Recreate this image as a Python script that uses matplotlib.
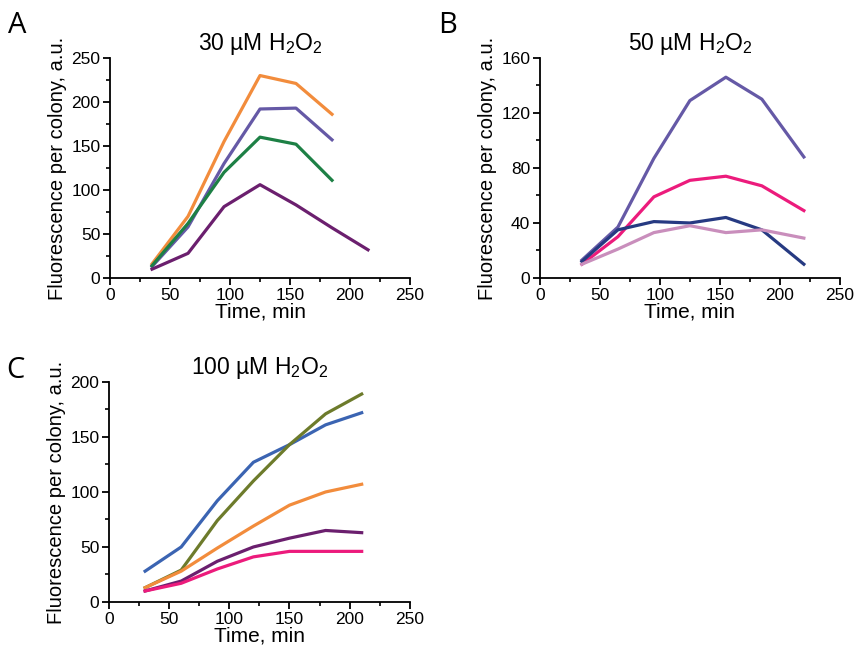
import matplotlib
matplotlib.use('Agg')
import matplotlib.pyplot as plt
from matplotlib.ticker import MultipleLocator

plt.rcParams['font.family'] = ['Liberation Sans', 'DejaVu Sans']
plt.rcParams['mathtext.fontset'] = 'custom'
plt.rcParams['mathtext.rm'] = 'Liberation Sans'
plt.rcParams['mathtext.it'] = 'Liberation Sans:italic'
plt.rcParams['mathtext.bf'] = 'Liberation Sans:bold'

# Panel A: 30 uM H2O2
time_a = [35, 65, 95, 125, 155, 185]
time_a_long = [35, 65, 95, 125, 155, 185, 215]
a_orange = [16, 70, 155, 230, 221, 186]
a_slate = [13, 58, 130, 192, 193, 157]
a_green = [14, 62, 120, 160, 152, 111]
a_purple = [10, 28, 81, 106, 83, 57, 32]

# Panel B: 50 uM H2O2
time_b = [35, 65, 95, 125, 155, 185, 220]
b_slate = [13, 37, 87, 129, 146, 130, 88]
b_pink = [10, 30, 59, 71, 74, 67, 49]
b_navy = [12, 35, 41, 40, 44, 35, 10]
b_mauve = [10, 21, 33, 38, 33, 35, 29]

# Panel C: 100 uM H2O2
time_c = [30, 60, 90, 120, 150, 180, 210]
c_blue = [28, 50, 92, 127, 143, 161, 172]
c_olive = [13, 29, 74, 110, 143, 171, 189]
c_orange = [13, 28, 49, 69, 88, 100, 107]
c_purple = [10, 19, 37, 50, 58, 65, 63]
c_pink = [10, 17, 30, 41, 46, 46, 46]

fig = plt.figure(figsize=(8.57, 6.51), dpi=100)
axA = fig.add_axes([0.1284, 0.573, 0.350, 0.338])
axB = fig.add_axes([0.630, 0.573, 0.350, 0.338])
axC = fig.add_axes([0.1272, 0.0753, 0.351, 0.338])

lw = 2.3
axA.plot(time_a, a_orange, color='#f28c3c', lw=lw)
axA.plot(time_a, a_slate, color='#6559a6', lw=lw)
axA.plot(time_a, a_green, color='#1d8045', lw=lw)
axA.plot(time_a_long, a_purple, color='#6b1f6e', lw=lw)

axB.plot(time_b, b_slate, color='#6559a6', lw=lw)
axB.plot(time_b, b_pink, color='#ec1b7c', lw=lw)
axB.plot(time_b, b_navy, color='#263a82', lw=lw)
axB.plot(time_b, b_mauve, color='#c98ebc', lw=lw)

axC.plot(time_c, c_blue, color='#3b64b2', lw=lw)
axC.plot(time_c, c_olive, color='#6d7b2b', lw=lw)
axC.plot(time_c, c_orange, color='#f28c3c', lw=lw)
axC.plot(time_c, c_purple, color='#6b1f6e', lw=lw)
axC.plot(time_c, c_pink, color='#ec1b7c', lw=lw)

panels = [
    (axA, 250, 50, '30 µM H$_2$O$_2$', 'A', 1.215),
    (axB, 160, 40, '50 µM H$_2$O$_2$', 'B', 1.215),
    (axC, 200, 50, '100 µM H$_2$O$_2$', 'C', 1.12),
]
for ax, ymax, ystep, title, letter, letter_y in panels:
    ax.set_xlim(0, 250)
    ax.set_ylim(0, ymax)
    ax.xaxis.set_major_locator(MultipleLocator(50))
    ax.xaxis.set_minor_locator(MultipleLocator(25))
    ax.yaxis.set_major_locator(MultipleLocator(ystep))
    ax.yaxis.set_minor_locator(MultipleLocator(ystep / 2))
    ax.spines['top'].set_visible(False)
    ax.spines['right'].set_visible(False)
    ax.spines['left'].set_linewidth(1.3)
    ax.spines['bottom'].set_linewidth(1.3)
    ax.tick_params(which='major', direction='out', length=5, width=1.3, labelsize=12.5, pad=2)
    ax.tick_params(which='minor', direction='out', length=3, width=1.2)
    ax.set_xlabel('Time, min', fontsize=15, labelpad=0)
    ax.set_ylabel('Fluorescence per colony, a.u.', fontsize=14.5, labelpad=3)
    ax.set_title(title, fontsize=16.5, pad=6)
    ax.text(-0.34, letter_y, letter, transform=ax.transAxes, fontsize=21,
            family=['Open Sans', 'DejaVu Sans'], va='top', ha='left')

fig.savefig('out.png', dpi=100)
